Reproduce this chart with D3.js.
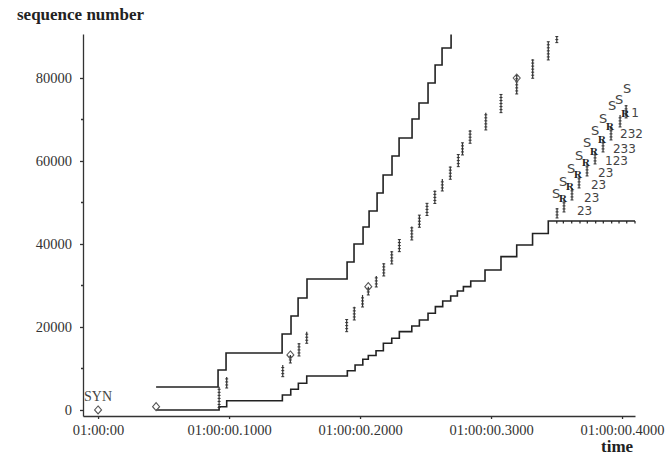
<!DOCTYPE html>
<html>
<head>
<meta charset="utf-8">
<script src="https://cdn.jsdelivr.net/npm/d3@7"></script>
<style>
  body { margin: 0; background: #fff; }
  svg { display: block; }
  .axis path, .axis line { stroke: #333; stroke-width: 1.3; }
  .axis text { font-family: "Liberation Serif", serif; font-size: 14.5px; fill: #333; }
  .title { font-family: "Liberation Serif", serif; font-weight: bold; font-size: 17px; fill: #222; }
</style>
</head>
<body>
<script>
// tick values and labels
var xTickValues = [0, 0.1, 0.2, 0.3, 0.4];
var xTickLabels = ["01:00:00", "01:00:00.1000", "01:00:00.2000", "01:00:00.3000", "01:00:00.4000"];
var yTickValues = [0, 20000, 40000, 60000, 80000];
var yMinorTicks = [10000, 30000, 50000, 70000];

// receive window line (time offset in s, seq)
var windowSteps = [
  [0.0443, 5543], [0.0916, 9640], [0.0977, 13737], [0.1405, 18316], [0.1473, 22654],
  [0.1527, 26992], [0.1595, 31571], [0.1901, 35668], [0.1954, 40006], [0.2023, 44103],
  [0.2069, 47959], [0.2130, 52297], [0.2176, 56635], [0.2244, 61214], [0.2298, 65552],
  [0.2397, 70131], [0.2450, 73987], [0.2519, 78807], [0.2573, 83145], [0.2626, 87242],
  [0.2695, 90500]
];

// ack line
var ackSteps = [
  [0.0443, 0], [0.0924, 795], [0.0982, 2241], [0.1407, 3615], [0.1471, 5013],
  [0.1529, 6435], [0.1593, 8194], [0.1903, 9471], [0.1962, 10845], [0.2021, 12219],
  [0.2063, 13135], [0.2122, 14291], [0.2178, 16075], [0.2242, 17280], [0.2300, 18870],
  [0.2395, 20244], [0.2453, 21690], [0.2519, 23305], [0.2575, 24895], [0.2631, 26269],
  [0.2692, 27474], [0.2743, 28679], [0.2789, 29715], [0.2845, 31089], [0.2954, 33740],
  [0.3076, 36945], [0.3196, 39765], [0.3317, 42537], [0.3437, 45549], [0.4099, 45549]
];

// data segments sent (time, seq low, seq high)
var dataSegs = [
  [0.0924, 600, 5600], [0.0982, 5300, 7950], [0.1410, 8025, 10845], [0.1468, 11327, 13255],
  [0.1534, 13014, 16147], [0.1593, 16075, 18870], [0.1898, 18870, 21931], [0.1956, 21690, 24895],
  [0.2019, 24823, 27715], [0.2063, 27715, 29715], [0.2124, 29643, 32294], [0.2181, 32294, 35355],
  [0.2242, 35186, 38319], [0.2300, 38150, 41139], [0.2395, 40970, 44224], [0.2453, 44031, 46995],
  [0.2511, 46875, 49815], [0.2571, 49767, 52900], [0.2628, 52779, 55671], [0.2689, 55599, 58684],
  [0.2750, 58635, 61576], [0.2782, 61455, 64419], [0.2840, 64275, 67480], [0.2960, 67480, 71650],
  [0.3076, 71650, 76156], [0.3196, 76156, 80735], [0.3318, 79940, 84519], [0.3437, 84350, 88760],
  [0.3502, 88519, 90134]
];

// diamonds (syn / window probes)
var diamondMarks = [[0, 0], [0.0443, 800], [0.1468, 13255], [0.2063, 29715], [0.3196, 80000]];

// duplicate ack ticks on the flat ack line
var dupAckTimes = [0.3502, 0.3552, 0.3616, 0.3679, 0.3735, 0.3799, 0.3857, 0.3921, 0.3977, 0.4036, 0.4099];
var dupAckSeq = 45549;

// sack blocks
var sackMarks = [
  [0.3496, 52297], [0.3550, 55189], [0.3611, 58322], [0.3672, 61214], [0.3733, 64347],
  [0.3794, 67239], [0.3855, 70131], [0.3924, 73264], [0.3977, 74710], [0.4038, 77361]
];

// retransmissions
var retransMarks = [
  [0.3550, 51092], [0.3603, 53984], [0.3664, 56876], [0.3725, 59768],
  [0.3786, 62419], [0.3847, 65311], [0.3908, 68444], [0.4025, 71577]
];
var retransSegs = [
  [0.3504, 46272, 48682], [0.3557, 47718, 50610], [0.3618, 50610, 53502], [0.3672, 53502, 56394],
  [0.3733, 56394, 59286], [0.3794, 59286, 62178], [0.3855, 62178, 65070], [0.3916, 65070, 68203],
  [0.3985, 68203, 71095], [0.4031, 70372, 73505]
];

// dup ack counters
var dupLabelPos = [
  [0.3656, 47959], [0.3710, 51092], [0.3763, 54225], [0.3817, 57117],
  [0.3870, 60009], [0.3931, 62901], [0.3985, 66516], [0.4070, 71577]
];
var dupLabelText = ["23", "23", "23", "23", "123", "233", "232", "1"];

var segTick = 730;

window.onload = drawChart();

function drawChart(){
    var width = 665,
        height = 456;

    var svg = d3.select("body")
        .append("svg")
        .attr("width", width)
        .attr("height", height);

    var x = d3.scaleLinear()
        .domain([-0.0115, 0.4099])
        .range([83, 635]);

    var y = d3.scaleLinear()
        .domain([-1450, 90600])
        .range([416, 34]);

    // axes
    var xAxis = d3.axisBottom(x)
        .tickValues(xTickValues)
        .tickFormat(function(d, i){ return xTickLabels[i]; })
        .tickSize(3)
        .tickSizeOuter(0)
        .tickPadding(6);

    svg.append("g")
        .attr("class", "axis")
        .attr("transform", "translate(0,416)")
        .call(xAxis);

    var yAxis = d3.axisLeft(y)
        .tickValues(yTickValues)
        .tickFormat(d3.format("d"))
        .tickSize(3)
        .tickSizeOuter(0)
        .tickPadding(8);

    var yg = svg.append("g")
        .attr("class", "axis")
        .attr("transform", "translate(83,0)")
        .call(yAxis);

    yg.selectAll(".minor")
        .data(yMinorTicks)
        .enter()
        .append("line")
        .attr("class", "minor")
        .attr("x1", -2)
        .attr("x2", 0)
        .attr("y1", function(d){ return y(d); })
        .attr("y2", function(d){ return y(d); });

    svg.append("text")
        .attr("class", "title")
        .attr("x", 17)
        .attr("y", 20)
        .text("sequence number");

    svg.append("text")
        .attr("class", "title")
        .attr("x", 601)
        .attr("y", 452)
        .text("time");

    var stepLine = d3.line()
        .x(function(d){ return x(d[0]); })
        .y(function(d){ return y(d[1]); })
        .curve(d3.curveStepAfter);

    svg.append("path")
        .datum(windowSteps)
        .attr("d", stepLine)
        .attr("fill", "none")
        .attr("stroke", "#222")
        .attr("stroke-width", 1.6);

    svg.append("path")
        .datum(ackSteps)
        .attr("d", stepLine)
        .attr("fill", "none")
        .attr("stroke", "#222")
        .attr("stroke-width", 1.6);

    // dup ack ticks
    svg.selectAll(".dupack")
        .data(dupAckTimes)
        .enter()
        .append("line")
        .attr("class", "dupack")
        .attr("x1", function(d){ return x(d); })
        .attr("x2", function(d){ return x(d); })
        .attr("y1", y(dupAckSeq))
        .attr("y2", y(dupAckSeq) + 2.5)
        .attr("stroke", "#222")
        .attr("stroke-width", 1.2);

    // segments with small ticks
    function drawSegs(list, cls){
        var seg = svg.selectAll("." + cls)
            .data(list)
            .enter()
            .append("g")
            .attr("class", cls);

        seg.append("line")
            .attr("x1", function(d){ return x(d[0]); })
            .attr("x2", function(d){ return x(d[0]); })
            .attr("y1", function(d){ return y(d[1]); })
            .attr("y2", function(d){ return y(d[2]); })
            .attr("stroke", "#333")
            .attr("stroke-width", 1.2);

        seg.each(function(d){
            var ticks = d3.range(d[1], d[2] + 1, segTick);
            d3.select(this).selectAll("line.t")
                .data(ticks)
                .enter()
                .append("line")
                .attr("class", "t")
                .attr("x1", x(d[0]) - 1.5)
                .attr("x2", x(d[0]) + 1.5)
                .attr("y1", function(v){ return y(v); })
                .attr("y2", function(v){ return y(v); })
                .attr("stroke", "#333")
                .attr("stroke-width", 1);
        });
    }
    drawSegs(dataSegs, "dseg");
    drawSegs(retransSegs, "rseg");

    // diamonds
    svg.selectAll(".diamond")
        .data(diamondMarks)
        .enter()
        .append("path")
        .attr("class", "diamond")
        .attr("transform", function(d){ return "translate(" + x(d[0]) + "," + y(d[1]) + ")"; })
        .attr("d", "M0,-4L3.5,0L0,4L-3.5,0Z")
        .attr("fill", "none")
        .attr("stroke", "#555")
        .attr("stroke-width", 1.1);

    svg.append("text")
        .attr("x", x(0) - 14)
        .attr("y", y(0) - 9)
        .attr("font-family", "Liberation Serif, serif")
        .attr("font-size", 14)
        .attr("fill", "#444")
        .text("SYN");

    // sack / retransmit labels
    svg.selectAll(".sack")
        .data(sackMarks)
        .enter()
        .append("text")
        .attr("class", "sack")
        .attr("x", function(d){ return x(d[0]); })
        .attr("y", function(d){ return y(d[1]); })
        .attr("text-anchor", "middle")
        .attr("dy", "0.35em")
        .attr("font-family", "DejaVu Sans, sans-serif")
        .attr("font-size", 13)
        .attr("fill", "#444")
        .text("S");

    svg.selectAll(".retrans")
        .data(retransMarks)
        .enter()
        .append("text")
        .attr("class", "retrans")
        .attr("x", function(d){ return x(d[0]); })
        .attr("y", function(d){ return y(d[1]); })
        .attr("text-anchor", "middle")
        .attr("dy", "0.35em")
        .attr("font-family", "Liberation Serif, serif")
        .attr("font-weight", "bold")
        .attr("font-size", 11)
        .attr("fill", "#222")
        .text("R");

    svg.selectAll(".duplabel")
        .data(dupLabelPos)
        .enter()
        .append("text")
        .attr("class", "duplabel")
        .attr("x", function(d){ return x(d[0]); })
        .attr("y", function(d){ return y(d[1]); })
        .attr("dy", "0.35em")
        .attr("font-family", "DejaVu Sans, sans-serif")
        .attr("font-size", 12)
        .attr("fill", "#444")
        .text(function(d, i){ return dupLabelText[i]; });
}
</script>
</body>
</html>
